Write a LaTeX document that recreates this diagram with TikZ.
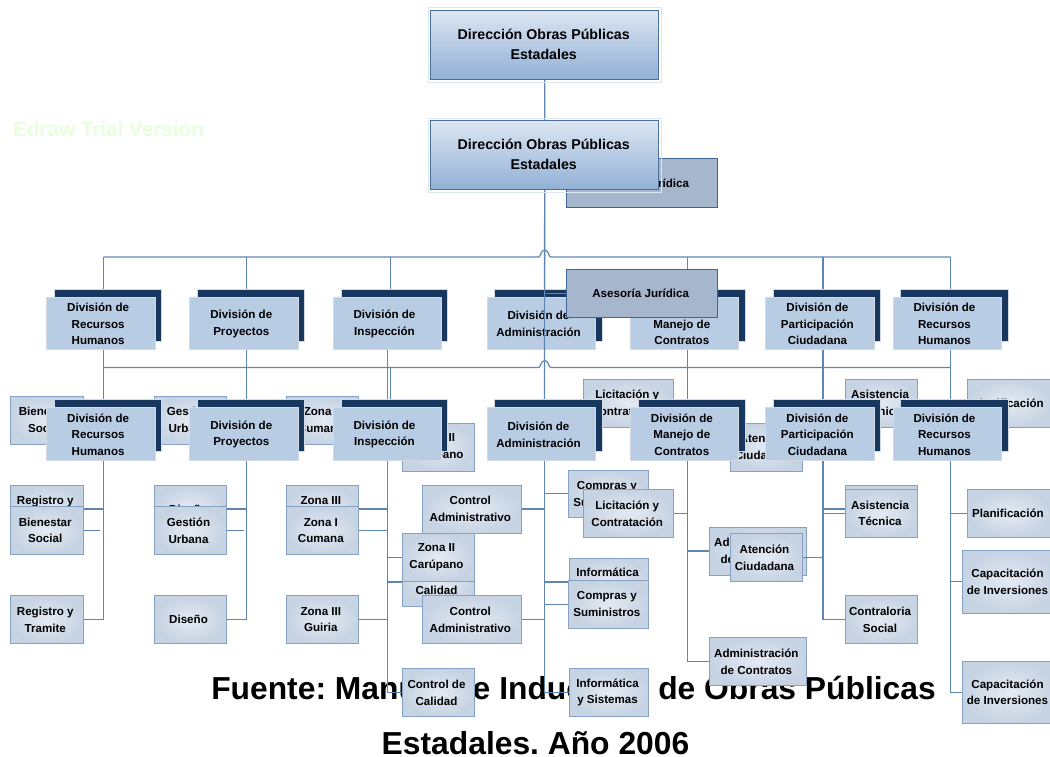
\documentclass[tikz,border=0pt]{standalone}
\usepackage{fontspec}
\setmainfont{Liberation Sans}
\usetikzlibrary{calc}
\pgfdeclarelayer{linesA}\pgfdeclarelayer{boxesA}\pgfdeclarelayer{fuente}\pgfdeclarelayer{linesB}\pgfdeclarelayer{boxesB}
\pgfsetlayers{linesA,boxesA,fuente,linesB,boxesB,main}
\definecolor{conn}{HTML}{5F86B3}
\definecolor{navy}{HTML}{17375E}
\definecolor{divfill}{HTML}{B8CCE4}
\definecolor{edgegrey}{HTML}{D3DAE3}
\definecolor{subedge}{HTML}{86A1C4}
\definecolor{subin}{HTML}{E4EAF2}
\definecolor{subout}{HTML}{C6D3E3}
\definecolor{asesfill}{HTML}{A6B6CC}
\definecolor{asesedge}{HTML}{3F6594}
\definecolor{diredge}{HTML}{4A7099}
\definecolor{halo}{HTML}{DCE6F2}
\definecolor{dirlow}{HTML}{92B0D6}
\definecolor{trialgreen}{HTML}{E8FFDC}
\tikzset{
  box/.style={rectangle,inner sep=0pt,outer sep=0pt},
  label/.style={inner sep=0pt,outer sep=0pt,align=center,text=black,font=\bfseries\fontsize{11.6}{16.7}\selectfont},
  subbox/.style={box,draw=subedge,line width=1pt,inner color=subin,outer color=subout},
  divfront/.style={box,fill=divfill,draw=edgegrey,line width=.8pt},
  divback/.style={box,fill=navy,draw=edgegrey,line width=.8pt},
  asesbox/.style={box,fill=asesfill,draw=asesedge,line width=1pt},
  dirbox/.style={box,draw=diredge,line width=1pt,top color=halo,bottom color=dirlow},
  dirlabel/.style={label,font=\bfseries\fontsize{14.2}{20}\selectfont},
  haloline/.style={draw=halo,line width=.8pt},
  wire/.style={draw=conn,line width=1.2pt},
  bigtext/.style={inner sep=0pt,anchor=base,font=\bfseries\fontsize{31.8}{36}\selectfont\frenchspacing},
}
% style, name, x1, y1, x2, y2
\newcommand{\bx}[6]{\node[#1,minimum width={(#5-#3)*1pt},minimum height={(#6-#4)*1pt}] (#2) at ({(#3+#5)/2},{(#4+#6)/2}) {};}
% sub box: name, x1, y1, x2, y2, text
\newcommand{\sbx}[6]{\bx{subbox}{#1}{#2}{#3}{#4}{#5}\node[label] (#1-t) at ($(#1)+(-1.5,0)$) {#6};}
% suffix, name, text, front x1, front x2, back x1, back x2
\newcommand{\dv}[7]{%
  \bx{divback}{#2back#1}{#6}{289}{#7}{341}
  \bx{divfront}{#2#1}{#4}{297.3}{#5}{349.5}
  \node[label] (#2#1-t) at ($(#2#1)+(-2.5,.6)$) {#3};
  \coordinate (#2top#1) at ({(#4+#7)/2},289);
  \coordinate (#2bot#1) at ({(#4+#7)/2},349.5);
}
\newcommand{\subboxes}[1]{%
  \sbx{bien#1}{10.5}{396}{83}{444}{Bienestar\\Social}
  \sbx{regi#1}{10.5}{485}{83}{533}{Registro y\\Tramite}
  \sbx{gest#1}{154}{396}{226}{444}{Gestión\\Urbana}
  \sbx{dise#1}{154}{485}{226}{533}{Diseño}
  \sbx{zoni#1}{286}{396}{358.7}{444}{Zona I\\Cumana}
  \sbx{zoiii#1}{286}{485}{358.7}{533}{Zona III\\Guiria}
  \sbx{zoii#1}{402}{423}{474}{471}{Zona II\\Carúpano}
  \sbx{ctad#1}{422}{485}{521.6}{533}{Control\\Administrativo}
  \sbx{ctca#1}{402}{558}{474}{606}{Control de\\Calidad}
  \sbx{comp#1}{568.7}{470}{648}{517.5}{Compras y\\Suministros}
  \sbx{info#1}{569.4}{558}{648.8}{606}{Informática\\y Sistemas}
  \sbx{lici#1}{583.6}{379}{673.8}{427}{Licitación y\\Contratación}
  \sbx{aten#1}{730}{423}{802}{471}{Atención\\Ciudadana}
  \sbx{admi#1}{709}{527}{806.7}{575}{Administración\\de Contratos}
  \sbx{asis#1}{845.5}{379}{917.6}{427}{Asistencia\\Técnica}
  \sbx{cont#1}{845.5}{485}{917.6}{533}{Contraloria\\Social}
  \sbx{plan#1}{967}{379}{1052}{427}{Planificación}
  \sbx{capb#1}{962}{550.5}{1056}{613}{Capacitación\\de Inversiones}
}
\newcommand{\chartboxes}[1]{%
  \draw[haloline] (428.3,7.5) rectangle (661.5,82);
  \bx{dirbox}{dir#1}{430.7}{10.3}{658.7}{79.5}
  \node[dirlabel] (dir#1-t) at ($(dir#1)+(-1,-1)$) {Dirección Obras Públicas\\Estadales};
  \bx{asesbox}{ases#1}{566.7}{159}{717.7}{207}
  \node[label] (ases#1-t) at ($(ases#1)+(-1.5,0)$) {Asesoría Jurídica};
  \dv{#1}{rh}{División de\\Recursos\\Humanos}{46.3}{155}{54}{161}
  \dv{#1}{pro}{División de\\Proyectos}{189.6}{298}{197.4}{304}
  \dv{#1}{ins}{División de\\Inspección}{333}{441}{341}{447.6}
  \dv{#1}{adm}{División de\\Administración}{487}{595}{494.6}{602}
  \dv{#1}{man}{División de\\Manejo de\\Contratos}{630}{738.7}{638}{745.5}
  \dv{#1}{par}{División de\\Participación\\Ciudadana}{765.8}{874}{773}{880}
  \dv{#1}{rhb}{División de\\Recursos\\Humanos}{893}{1001}{900.6}{1008}
  \subboxes{#1}
}
\newcommand{\chartlines}[1]{%
  \coordinate (bus#1) at (dir#1.south |- 0,257);
  \coordinate (insdown#1) at ($(insbot#1)+(-3,0)$);
  \draw[wire] (dir#1.south) -- (admbot#1);
  \draw[wire] (rhtop#1 |- bus#1) -- ($(bus#1)+(-6,0)$)
     .. controls ($(bus#1)+(-4,0)$) and ($(bus#1)+(-4,-7)$) .. ($(bus#1)+(0,-7)$)
     .. controls ($(bus#1)+(4,-7)$) and ($(bus#1)+(4,0)$) .. ($(bus#1)+(6,0)$) -- (rhbtop#1 |- bus#1);
  \foreach \dvn in {rh,pro,ins,man,par,rhb}{ \draw[wire] (\dvn top#1 |- bus#1) -- (\dvn top#1); }
  \draw[wire] (ases#1.west) -- (ases#1.west -| dir#1.south);
  \draw[wire] (rhbot#1) -- (rhbot#1 |- regi#1.east) -- (regi#1.east);
  \draw[wire] (bien#1.east) -- ++(17,0);
  \draw[wire] (probot#1) -- (probot#1 |- dise#1.east) -- (dise#1.east);
  \draw[wire] (gest#1.east) -- ++(18,0);
  \draw[wire] (insdown#1) -- (insdown#1 |- ctca#1.west) -- (ctca#1.west);
  \foreach \snm in {zoni,zoiii}{ \draw[wire] (\snm #1.east) -- (\snm #1.east -| insdown#1); }
  \draw[wire] (zoii#1.west) -- (zoii#1.west -| insdown#1);
  \draw[wire] (admbot#1) -- (admbot#1 |- info#1.west) -- (info#1.west);
  \draw[wire] (ctad#1.east) -- (ctad#1.east -| admbot#1);
  \draw[wire] (comp#1.west) -- (comp#1.west -| admbot#1);
  \draw[wire] (manbot#1) -- (manbot#1 |- admi#1.west) -- (admi#1.west);
  \draw[wire] (lici#1.east) -- (lici#1.east -| manbot#1);
  \draw[wire] (parbot#1) -- (parbot#1 |- cont#1.west) -- (cont#1.west);
  \draw[wire] (asis#1.west) -- (asis#1.west -| parbot#1);
  \draw[wire] (aten#1.east) -- (aten#1.east -| parbot#1);
  \draw[wire] (rhbbot#1) -- (rhbbot#1 |- capb#1.west) -- (capb#1.west);
  \draw[wire] (plan#1.west) -- (plan#1.west -| rhbbot#1);
}
\begin{document}
\begin{tikzpicture}[x=1pt,y=-1pt]
\useasboundingbox (0,0) rectangle (1050,757);
\begin{scope}
  \begin{pgfonlayer}{boxesA}\chartboxes{A}\end{pgfonlayer}
  \begin{pgfonlayer}{linesA}\chartlines{A}\end{pgfonlayer}
\end{scope}
\begin{scope}[shift={(0,110.5)}]
  \begin{pgfonlayer}{boxesB}
    \chartboxes{B}
    \sbx{capa}{962}{439.5}{1056}{502.5}{Capacitación\\de Inversiones}
  \end{pgfonlayer}
  \begin{pgfonlayer}{linesB}
    \chartlines{B}
    \draw[wire] (capa.west) -- (capa.west -| rhbbotB);
  \end{pgfonlayer}
\end{scope}
\begin{pgfonlayer}{fuente}
  \node[text=trialgreen,font=\bfseries\fontsize{20.7}{22}\selectfont,inner sep=0pt] (trial) at (108.5,129) {Edraw Trial Version};
  \node[bigtext] (fuente1) at (573.5,699.5) {Fuente: Manual de Inducción de Obras Públicas};
  \node[bigtext] (fuente2) at (535.5,754.5) {Estadales. Año 2006};
\end{pgfonlayer}
\end{tikzpicture}
\end{document}
